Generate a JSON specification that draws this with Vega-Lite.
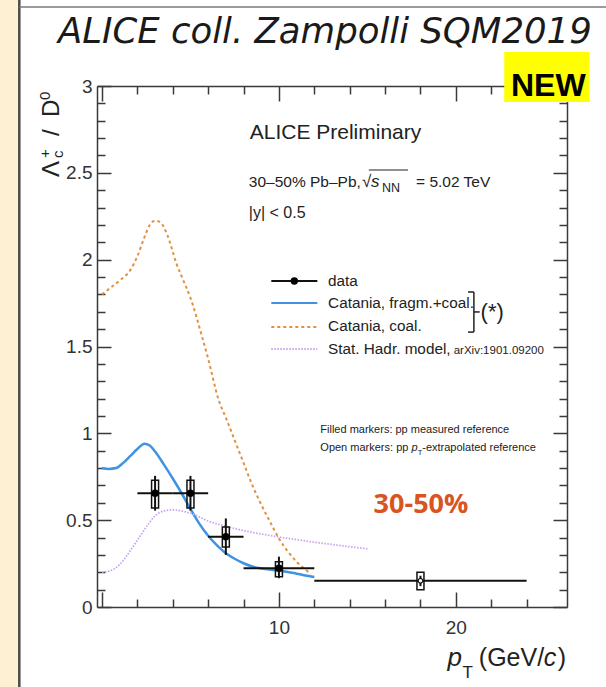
{
  "$schema": "https://vega.github.io/schema/vega-lite/v6.json",
  "width": 470,
  "height": 521,
  "autosize": "none",
  "padding": {"left": 97, "top": 86, "right": 39, "bottom": 80},
  "background": "white",
  "config": {
    "view": {"stroke": null},
    "axis": {"grid": false, "domainColor": "#3a3a3a", "domainWidth": 1.5, "tickColor": "#3a3a3a", "tickWidth": 1.5, "labelFont": "Liberation Sans", "labelFontSize": 19, "labelColor": "#333", "labelFlush": false, "labelOverlap": false}
  },
  "datasets": {
    "curves": [
      {"model": "fragcoal", "pT": 0, "ratio": 0.8}, {"model": "fragcoal", "pT": 0.4, "ratio": 0.795}, {"model": "fragcoal", "pT": 0.8, "ratio": 0.8}, {"model": "fragcoal", "pT": 1.2, "ratio": 0.83}, {"model": "fragcoal", "pT": 1.6, "ratio": 0.87}, {"model": "fragcoal", "pT": 2.0, "ratio": 0.91}, {"model": "fragcoal", "pT": 2.4, "ratio": 0.94}, {"model": "fragcoal", "pT": 2.7, "ratio": 0.93}, {"model": "fragcoal", "pT": 3.0, "ratio": 0.895}, {"model": "fragcoal", "pT": 3.5, "ratio": 0.82}, {"model": "fragcoal", "pT": 4.0, "ratio": 0.74}, {"model": "fragcoal", "pT": 4.5, "ratio": 0.655}, {"model": "fragcoal", "pT": 5.0, "ratio": 0.565}, {"model": "fragcoal", "pT": 5.5, "ratio": 0.48}, {"model": "fragcoal", "pT": 6.0, "ratio": 0.41}, {"model": "fragcoal", "pT": 6.5, "ratio": 0.355}, {"model": "fragcoal", "pT": 7.0, "ratio": 0.31}, {"model": "fragcoal", "pT": 7.5, "ratio": 0.278}, {"model": "fragcoal", "pT": 8.0, "ratio": 0.252}, {"model": "fragcoal", "pT": 8.5, "ratio": 0.233}, {"model": "fragcoal", "pT": 9.0, "ratio": 0.222}, {"model": "fragcoal", "pT": 10.0, "ratio": 0.21}, {"model": "fragcoal", "pT": 11.0, "ratio": 0.192}, {"model": "fragcoal", "pT": 12.0, "ratio": 0.172},
      {"model": "coal", "pT": 0, "ratio": 1.8}, {"model": "coal", "pT": 0.5, "ratio": 1.84}, {"model": "coal", "pT": 1.0, "ratio": 1.88}, {"model": "coal", "pT": 1.6, "ratio": 1.94}, {"model": "coal", "pT": 2.0, "ratio": 2.02}, {"model": "coal", "pT": 2.4, "ratio": 2.13}, {"model": "coal", "pT": 2.7, "ratio": 2.2}, {"model": "coal", "pT": 3.0, "ratio": 2.225}, {"model": "coal", "pT": 3.3, "ratio": 2.215}, {"model": "coal", "pT": 3.7, "ratio": 2.14}, {"model": "coal", "pT": 4.2, "ratio": 1.98}, {"model": "coal", "pT": 4.6, "ratio": 1.88}, {"model": "coal", "pT": 5.0, "ratio": 1.78}, {"model": "coal", "pT": 5.7, "ratio": 1.54}, {"model": "coal", "pT": 6.0, "ratio": 1.43}, {"model": "coal", "pT": 6.6, "ratio": 1.19}, {"model": "coal", "pT": 7.0, "ratio": 1.09}, {"model": "coal", "pT": 7.5, "ratio": 0.96}, {"model": "coal", "pT": 8.0, "ratio": 0.83}, {"model": "coal", "pT": 8.5, "ratio": 0.7}, {"model": "coal", "pT": 9.0, "ratio": 0.59}, {"model": "coal", "pT": 9.5, "ratio": 0.49}, {"model": "coal", "pT": 10.0, "ratio": 0.395}, {"model": "coal", "pT": 10.5, "ratio": 0.32}, {"model": "coal", "pT": 11.0, "ratio": 0.26}, {"model": "coal", "pT": 11.5, "ratio": 0.215}, {"model": "coal", "pT": 11.8, "ratio": 0.19},
      {"model": "shm", "pT": 0, "ratio": 0.2}, {"model": "shm", "pT": 0.5, "ratio": 0.21}, {"model": "shm", "pT": 1.0, "ratio": 0.245}, {"model": "shm", "pT": 1.5, "ratio": 0.31}, {"model": "shm", "pT": 2.0, "ratio": 0.385}, {"model": "shm", "pT": 2.5, "ratio": 0.46}, {"model": "shm", "pT": 3.0, "ratio": 0.525}, {"model": "shm", "pT": 3.5, "ratio": 0.553}, {"model": "shm", "pT": 4.0, "ratio": 0.56}, {"model": "shm", "pT": 4.5, "ratio": 0.553}, {"model": "shm", "pT": 5.0, "ratio": 0.54}, {"model": "shm", "pT": 6.0, "ratio": 0.495}, {"model": "shm", "pT": 7.0, "ratio": 0.465}, {"model": "shm", "pT": 8.0, "ratio": 0.44}, {"model": "shm", "pT": 9.0, "ratio": 0.42}, {"model": "shm", "pT": 10.0, "ratio": 0.403}, {"model": "shm", "pT": 11.0, "ratio": 0.388}, {"model": "shm", "pT": 12.0, "ratio": 0.373}, {"model": "shm", "pT": 13.0, "ratio": 0.36}, {"model": "shm", "pT": 14.0, "ratio": 0.347}, {"model": "shm", "pT": 15.0, "ratio": 0.335}
    ],
    "points": [
      {"pT": 3, "ratio": 0.655, "pTlo": 2, "pThi": 4, "statLo": 0.555, "statHi": 0.755, "systLo": 0.57, "systHi": 0.73, "ref": "measured"},
      {"pT": 5, "ratio": 0.655, "pTlo": 4, "pThi": 6, "statLo": 0.555, "statHi": 0.755, "systLo": 0.57, "systHi": 0.73, "ref": "measured"},
      {"pT": 7, "ratio": 0.405, "pTlo": 6, "pThi": 8, "statLo": 0.3, "statHi": 0.51, "systLo": 0.345, "systHi": 0.46, "ref": "measured"},
      {"pT": 10, "ratio": 0.223, "pTlo": 8, "pThi": 12, "statLo": 0.166, "statHi": 0.29, "systLo": 0.174, "systHi": 0.261, "ref": "measured"},
      {"pT": 18, "ratio": 0.151, "pTlo": 12, "pThi": 24, "statLo": 0.12, "statHi": 0.18, "systLo": 0.1, "systHi": 0.2, "ref": "extrapolated"}
    ]
  },
  "resolve": {"axis": {"x": "independent", "y": "independent"}},
  "layer": [
    {"data": {"values": [{}]}, "mark": {"type": "rect", "color": "#fdf0d3"},
     "encoding": {"x": {"datum": -6, "type": "quantitative", "axis": null, "scale": {"domain": [0, 26]}}, "x2": {"datum": -4.757}, "y": {"datum": -1, "type": "quantitative", "axis": null, "scale": {"domain": [0, 3]}}, "y2": {"datum": 4}}},
    {"data": {"values": [{}]}, "mark": {"type": "rule", "color": "#4a4a4a", "strokeWidth": 2.5},
     "encoding": {"x": {"datum": -4.674, "type": "quantitative", "axis": null, "scale": {"domain": [0, 26]}}, "y": {"datum": -1, "type": "quantitative", "axis": null, "scale": {"domain": [0, 3]}}, "y2": {"datum": 4}}},
    {"data": {"values": [{}]}, "mark": {"type": "rule", "color": "#7a7a7a", "strokeWidth": 1.5},
     "encoding": {"x": {"datum": -4.674, "type": "quantitative", "axis": null, "scale": {"domain": [0, 26]}}, "x2": {"datum": 30}, "y": {"datum": 3.455, "type": "quantitative", "axis": null, "scale": {"domain": [0, 3]}}}},
    {"data": {"name": "curves"}, "transform": [{"filter": "datum.model === 'fragcoal'"}],
     "mark": {"type": "line", "color": "#3f93e2", "strokeWidth": 2.5, "interpolate": "monotone"},
     "encoding": {
       "x": {"field": "pT", "type": "quantitative", "scale": {"domain": [0, 26]},
             "axis": {"orient": "bottom", "title": null, "values": [0, 2, 4, 6, 8, 10, 12, 14, 16, 18, 20, 22, 24],
                      "tickSize": {"condition": {"test": "datum.value % 10 === 0", "value": -15}, "value": -8},
                      "labelPadding": 26, "labelExpr": "datum.value === 10 || datum.value === 20 ? datum.label : ''"}},
       "y": {"field": "ratio", "type": "quantitative", "scale": {"domain": [0, 3]},
             "axis": {"orient": "left", "title": null, "values": [0, 0.1, 0.2, 0.3, 0.4, 0.5, 0.6, 0.7, 0.8, 0.9, 1, 1.1, 1.2, 1.3, 1.4, 1.5, 1.6, 1.7, 1.8, 1.9, 2, 2.1, 2.2, 2.3, 2.4, 2.5, 2.6, 2.7, 2.8, 2.9, 3],
                      "tickSize": {"condition": {"test": "abs(datum.value*2 - round(datum.value*2)) < 0.001", "value": -14}, "value": -8},
                      "labelPadding": 19, "labelExpr": "abs(datum.value*2 - round(datum.value*2)) < 0.001 ? format(datum.value, '~g') : ''"}}
     }},
    {"data": {"name": "curves"}, "transform": [{"filter": "datum.model === 'coal'"}],
     "mark": {"type": "line", "color": "#e0903f", "strokeWidth": 2, "strokeDash": [3, 3], "interpolate": "monotone"},
     "encoding": {
       "x": {"field": "pT", "type": "quantitative", "scale": {"domain": [0, 26]},
             "axis": {"orient": "top", "title": null, "labels": false, "values": [0, 2, 4, 6, 8, 10, 12, 14, 16, 18, 20, 22, 24],
                      "tickSize": {"condition": {"test": "datum.value % 10 === 0", "value": -15}, "value": -8}}},
       "y": {"field": "ratio", "type": "quantitative", "scale": {"domain": [0, 3]},
             "axis": {"orient": "right", "title": null, "labels": false, "values": [0, 0.1, 0.2, 0.3, 0.4, 0.5, 0.6, 0.7, 0.8, 0.9, 1, 1.1, 1.2, 1.3, 1.4, 1.5, 1.6, 1.7, 1.8, 1.9, 2, 2.1, 2.2, 2.3, 2.4, 2.5, 2.6, 2.7, 2.8, 2.9, 3],
                      "tickSize": {"condition": {"test": "abs(datum.value*2 - round(datum.value*2)) < 0.001", "value": -14}, "value": -8}}}
     }},
    {"data": {"name": "curves"}, "transform": [{"filter": "datum.model === 'shm'"}],
     "mark": {"type": "line", "color": "#c6a3ef", "strokeWidth": 1.8, "strokeDash": [1.5, 1.5], "interpolate": "monotone"},
     "encoding": {"x": {"field": "pT", "type": "quantitative", "axis": null, "scale": {"domain": [0, 26]}}, "y": {"field": "ratio", "type": "quantitative", "axis": null, "scale": {"domain": [0, 3]}}}},
    {"data": {"name": "points"}, "mark": {"type": "rule", "color": "#111", "strokeWidth": 2},
     "encoding": {"x": {"field": "pTlo", "type": "quantitative", "axis": null, "scale": {"domain": [0, 26]}}, "x2": {"field": "pThi"}, "y": {"field": "ratio", "type": "quantitative", "axis": null, "scale": {"domain": [0, 3]}}}},
    {"data": {"name": "points"}, "mark": {"type": "rule", "color": "#111", "strokeWidth": 2},
     "encoding": {"x": {"field": "pT", "type": "quantitative", "axis": null, "scale": {"domain": [0, 26]}}, "y": {"field": "statLo", "type": "quantitative", "axis": null, "scale": {"domain": [0, 3]}}, "y2": {"field": "statHi"}}},
    {"data": {"name": "points"}, "mark": {"type": "bar", "size": 7, "fill": "white", "fillOpacity": 0, "stroke": "#111", "strokeWidth": 1.5},
     "encoding": {"x": {"field": "pT", "type": "quantitative", "axis": null, "scale": {"domain": [0, 26]}}, "y": {"field": "systLo", "type": "quantitative", "axis": null, "scale": {"domain": [0, 3]}}, "y2": {"field": "systHi"}}},
    {"data": {"name": "points"}, "transform": [{"filter": "datum.ref === 'measured'"}],
     "mark": {"type": "point", "shape": "circle", "filled": true, "size": 55, "color": "#000", "opacity": 1},
     "encoding": {"x": {"field": "pT", "type": "quantitative", "axis": null, "scale": {"domain": [0, 26]}}, "y": {"field": "ratio", "type": "quantitative", "axis": null, "scale": {"domain": [0, 3]}}}},
    {"data": {"name": "points"}, "transform": [{"filter": "datum.ref === 'extrapolated'"}],
     "mark": {"type": "point", "shape": "circle", "filled": false, "size": 22, "stroke": "#111", "strokeWidth": 1.2, "fill": "white", "opacity": 1},
     "encoding": {"x": {"field": "pT", "type": "quantitative", "axis": null, "scale": {"domain": [0, 26]}}, "y": {"field": "ratio", "type": "quantitative", "axis": null, "scale": {"domain": [0, 3]}}}},

    {"data": {"values": [{}]}, "mark": {"type": "rule", "color": "#111", "strokeWidth": 2},
     "encoding": {"x": {"datum": 9.57, "type": "quantitative", "axis": null, "scale": {"domain": [0, 26]}}, "x2": {"datum": 12.17}, "y": {"datum": 1.8772, "type": "quantitative", "axis": null, "scale": {"domain": [0, 3]}}}},
    {"data": {"values": [{}]}, "mark": {"type": "point", "shape": "circle", "filled": true, "size": 55, "color": "#000", "opacity": 1},
     "encoding": {"x": {"datum": 10.87, "type": "quantitative", "axis": null, "scale": {"domain": [0, 26]}}, "y": {"datum": 1.8772, "type": "quantitative", "axis": null, "scale": {"domain": [0, 3]}}}},
    {"data": {"values": [{}]}, "mark": {"type": "rule", "color": "#3f93e2", "strokeWidth": 2},
     "encoding": {"x": {"datum": 9.57, "type": "quantitative", "axis": null, "scale": {"domain": [0, 26]}}, "x2": {"datum": 12.17}, "y": {"datum": 1.7505, "type": "quantitative", "axis": null, "scale": {"domain": [0, 3]}}}},
    {"data": {"values": [{}]}, "mark": {"type": "rule", "color": "#e0903f", "strokeWidth": 2, "strokeDash": [3, 3]},
     "encoding": {"x": {"datum": 9.57, "type": "quantitative", "axis": null, "scale": {"domain": [0, 26]}}, "x2": {"datum": 12.17}, "y": {"datum": 1.6123, "type": "quantitative", "axis": null, "scale": {"domain": [0, 3]}}}},
    {"data": {"values": [{}]}, "mark": {"type": "rule", "color": "#c6a3ef", "strokeWidth": 1.8, "strokeDash": [1.5, 1.5]},
     "encoding": {"x": {"datum": 9.57, "type": "quantitative", "axis": null, "scale": {"domain": [0, 26]}}, "x2": {"datum": 12.17}, "y": {"datum": 1.4856, "type": "quantitative", "axis": null, "scale": {"domain": [0, 3]}}}},
    {"data": {"values": [{}]}, "mark": {"type": "text", "text": "data", "font": "Liberation Sans", "fontSize": 15.3, "align": "left", "baseline": "alphabetic", "color": "#222"},
     "encoding": {"x": {"datum": 12.78, "type": "quantitative", "axis": null, "scale": {"domain": [0, 26]}}, "y": {"datum": 1.8484, "type": "quantitative", "axis": null, "scale": {"domain": [0, 3]}}}},
    {"data": {"values": [{}]}, "mark": {"type": "text", "text": "Catania, fragm.+coal.", "font": "Liberation Sans", "fontSize": 15.3, "align": "left", "baseline": "alphabetic", "color": "#222"},
     "encoding": {"x": {"datum": 12.78, "type": "quantitative", "axis": null, "scale": {"domain": [0, 26]}}, "y": {"datum": 1.7235, "type": "quantitative", "axis": null, "scale": {"domain": [0, 3]}}}},
    {"data": {"values": [{}]}, "mark": {"type": "text", "text": "Catania, coal.", "font": "Liberation Sans", "fontSize": 15.3, "align": "left", "baseline": "alphabetic", "color": "#222"},
     "encoding": {"x": {"datum": 12.78, "type": "quantitative", "axis": null, "scale": {"domain": [0, 26]}}, "y": {"datum": 1.591, "type": "quantitative", "axis": null, "scale": {"domain": [0, 3]}}}},
    {"data": {"values": [{}]}, "mark": {"type": "text", "text": "Stat. Hadr. model,", "font": "Liberation Sans", "fontSize": 15.3, "align": "left", "baseline": "alphabetic", "color": "#222"},
     "encoding": {"x": {"datum": 12.78, "type": "quantitative", "axis": null, "scale": {"domain": [0, 26]}}, "y": {"datum": 1.4568, "type": "quantitative", "axis": null, "scale": {"domain": [0, 3]}}}},
    {"data": {"values": [{}]}, "mark": {"type": "text", "text": "arXiv:1901.09200", "font": "Liberation Sans", "fontSize": 11.5, "align": "left", "baseline": "alphabetic", "color": "#222"},
     "encoding": {"x": {"datum": 19.88, "type": "quantitative", "axis": null, "scale": {"domain": [0, 26]}}, "y": {"datum": 1.4568, "type": "quantitative", "axis": null, "scale": {"domain": [0, 3]}}}},
    {"data": {"values": [{}]}, "mark": {"type": "rule", "color": "#222", "strokeWidth": 1.5},
     "encoding": {"x": {"datum": 21.02, "type": "quantitative", "axis": null, "scale": {"domain": [0, 26]}}, "y": {"datum": 1.583, "type": "quantitative", "axis": null, "scale": {"domain": [0, 3]}}, "y2": {"datum": 1.814}}},
    {"data": {"values": [{}]}, "mark": {"type": "rule", "color": "#222", "strokeWidth": 1.5},
     "encoding": {"x": {"datum": 20.69, "type": "quantitative", "axis": null, "scale": {"domain": [0, 26]}}, "x2": {"datum": 21.02}, "y": {"datum": 1.814, "type": "quantitative", "axis": null, "scale": {"domain": [0, 3]}}}},
    {"data": {"values": [{}]}, "mark": {"type": "rule", "color": "#222", "strokeWidth": 1.5},
     "encoding": {"x": {"datum": 20.69, "type": "quantitative", "axis": null, "scale": {"domain": [0, 26]}}, "x2": {"datum": 21.02}, "y": {"datum": 1.583, "type": "quantitative", "axis": null, "scale": {"domain": [0, 3]}}}},
    {"data": {"values": [{}]}, "mark": {"type": "rule", "color": "#222", "strokeWidth": 1.5},
     "encoding": {"x": {"datum": 21.02, "type": "quantitative", "axis": null, "scale": {"domain": [0, 26]}}, "x2": {"datum": 21.35}, "y": {"datum": 1.699, "type": "quantitative", "axis": null, "scale": {"domain": [0, 3]}}}},
    {"data": {"values": [{}]}, "mark": {"type": "text", "text": "(*)", "font": "Liberation Sans", "fontSize": 22, "align": "left", "baseline": "middle", "color": "#222"},
     "encoding": {"x": {"datum": 21.4, "type": "quantitative", "axis": null, "scale": {"domain": [0, 26]}}, "y": {"datum": 1.699, "type": "quantitative", "axis": null, "scale": {"domain": [0, 3]}}}},

    {"data": {"values": [{}]}, "mark": {"type": "text", "text": "ALICE Preliminary", "font": "Liberation Sans", "fontSize": 21, "align": "left", "baseline": "alphabetic", "color": "#222"},
     "encoding": {"x": {"datum": 8.35, "type": "quantitative", "axis": null, "scale": {"domain": [0, 26]}}, "y": {"datum": 2.693, "type": "quantitative", "axis": null, "scale": {"domain": [0, 3]}}}},
    {"data": {"values": [{}]}, "mark": {"type": "text", "text": "30–50% Pb–Pb,", "font": "Liberation Sans", "fontSize": 15.5, "align": "left", "baseline": "alphabetic", "color": "#222"},
     "encoding": {"x": {"datum": 8.298, "type": "quantitative", "axis": null, "scale": {"domain": [0, 26]}}, "y": {"datum": 2.4184, "type": "quantitative", "axis": null, "scale": {"domain": [0, 3]}}}},
    {"data": {"values": [{}]}, "mark": {"type": "text", "text": "√", "font": "Liberation Sans", "fontSize": 17, "align": "left", "baseline": "alphabetic", "color": "#222"},
     "encoding": {"x": {"datum": 14.7, "type": "quantitative", "axis": null, "scale": {"domain": [0, 26]}}, "y": {"datum": 2.4184, "type": "quantitative", "axis": null, "scale": {"domain": [0, 3]}}}},
    {"data": {"values": [{}]}, "mark": {"type": "text", "text": "s", "font": "Liberation Sans", "fontStyle": "italic", "fontSize": 17, "align": "left", "baseline": "alphabetic", "color": "#222"},
     "encoding": {"x": {"datum": 15.2, "type": "quantitative", "axis": null, "scale": {"domain": [0, 26]}}, "y": {"datum": 2.4184, "type": "quantitative", "axis": null, "scale": {"domain": [0, 3]}}}},
    {"data": {"values": [{}]}, "mark": {"type": "text", "text": "NN", "font": "Liberation Sans", "fontSize": 12.5, "align": "left", "baseline": "alphabetic", "color": "#222"},
     "encoding": {"x": {"datum": 15.82, "type": "quantitative", "axis": null, "scale": {"domain": [0, 26]}}, "y": {"datum": 2.392, "type": "quantitative", "axis": null, "scale": {"domain": [0, 3]}}}},
    {"data": {"values": [{}]}, "mark": {"type": "rule", "color": "#222", "strokeWidth": 1},
     "encoding": {"x": {"datum": 15.08, "type": "quantitative", "axis": null, "scale": {"domain": [0, 26]}}, "x2": {"datum": 17.3}, "y": {"datum": 2.5163, "type": "quantitative", "axis": null, "scale": {"domain": [0, 3]}}}},
    {"data": {"values": [{}]}, "mark": {"type": "text", "text": "= 5.02 TeV", "font": "Liberation Sans", "fontSize": 15.5, "align": "left", "baseline": "alphabetic", "color": "#222"},
     "encoding": {"x": {"datum": 17.75, "type": "quantitative", "axis": null, "scale": {"domain": [0, 26]}}, "y": {"datum": 2.4184, "type": "quantitative", "axis": null, "scale": {"domain": [0, 3]}}}},
    {"data": {"values": [{}]}, "mark": {"type": "text", "text": "|y| < 0.5", "font": "Liberation Sans", "fontSize": 16, "align": "left", "baseline": "alphabetic", "color": "#222"},
     "encoding": {"x": {"datum": 8.298, "type": "quantitative", "axis": null, "scale": {"domain": [0, 26]}}, "y": {"datum": 2.24, "type": "quantitative", "axis": null, "scale": {"domain": [0, 3]}}}},

    {"data": {"values": [{}]}, "mark": {"type": "text", "text": "Filled markers: pp measured reference", "font": "Liberation Sans", "fontSize": 11, "align": "left", "baseline": "alphabetic", "color": "#222"},
     "encoding": {"x": {"datum": 12.34, "type": "quantitative", "axis": null, "scale": {"domain": [0, 26]}}, "y": {"datum": 1.0, "type": "quantitative", "axis": null, "scale": {"domain": [0, 3]}}}},
    {"data": {"values": [{}]}, "mark": {"type": "text", "text": "Open markers: pp", "font": "Liberation Sans", "fontSize": 11, "align": "left", "baseline": "alphabetic", "color": "#222"},
     "encoding": {"x": {"datum": 12.34, "type": "quantitative", "axis": null, "scale": {"domain": [0, 26]}}, "y": {"datum": 0.9, "type": "quantitative", "axis": null, "scale": {"domain": [0, 3]}}}},
    {"data": {"values": [{}]}, "mark": {"type": "text", "text": "p", "font": "Liberation Sans", "fontStyle": "italic", "fontSize": 11, "align": "left", "baseline": "alphabetic", "color": "#222"},
     "encoding": {"x": {"datum": 17.5, "type": "quantitative", "axis": null, "scale": {"domain": [0, 26]}}, "y": {"datum": 0.9, "type": "quantitative", "axis": null, "scale": {"domain": [0, 3]}}}},
    {"data": {"values": [{}]}, "mark": {"type": "text", "text": "T", "font": "Liberation Sans", "fontSize": 7.5, "align": "left", "baseline": "alphabetic", "color": "#222"},
     "encoding": {"x": {"datum": 17.84, "type": "quantitative", "axis": null, "scale": {"domain": [0, 26]}}, "y": {"datum": 0.878, "type": "quantitative", "axis": null, "scale": {"domain": [0, 3]}}}},
    {"data": {"values": [{}]}, "mark": {"type": "text", "text": "-extrapolated reference", "font": "Liberation Sans", "fontSize": 11, "align": "left", "baseline": "alphabetic", "color": "#222"},
     "encoding": {"x": {"datum": 18.1, "type": "quantitative", "axis": null, "scale": {"domain": [0, 26]}}, "y": {"datum": 0.9, "type": "quantitative", "axis": null, "scale": {"domain": [0, 3]}}}},
    {"data": {"values": [{}]}, "mark": {"type": "text", "text": "30-50%", "font": "Open Sans", "fontWeight": "bold", "fontSize": 27, "align": "center", "baseline": "middle", "color": "#d9541e"},
     "encoding": {"x": {"datum": 18.03, "type": "quantitative", "axis": null, "scale": {"domain": [0, 26]}}, "y": {"datum": 0.5874, "type": "quantitative", "axis": null, "scale": {"domain": [0, 3]}}}},

    {"data": {"values": [{}]}, "mark": {"type": "text", "text": "p", "font": "Liberation Sans", "fontStyle": "italic", "fontSize": 26, "align": "left", "baseline": "alphabetic", "color": "#222"},
     "encoding": {"x": {"datum": 19.53, "type": "quantitative", "axis": null, "scale": {"domain": [0, 26]}}, "y": {"datum": -0.3397, "type": "quantitative", "axis": null, "scale": {"domain": [0, 3]}}}},
    {"data": {"values": [{}]}, "mark": {"type": "text", "text": "T", "font": "Liberation Sans", "fontSize": 17, "align": "left", "baseline": "alphabetic", "color": "#222"},
     "encoding": {"x": {"datum": 20.38, "type": "quantitative", "axis": null, "scale": {"domain": [0, 26]}}, "y": {"datum": -0.4088, "type": "quantitative", "axis": null, "scale": {"domain": [0, 3]}}}},
    {"data": {"values": [{}]}, "mark": {"type": "text", "text": "(GeV/", "font": "Liberation Sans", "fontSize": 25, "align": "left", "baseline": "alphabetic", "color": "#222"},
     "encoding": {"x": {"datum": 21.3, "type": "quantitative", "axis": null, "scale": {"domain": [0, 26]}}, "y": {"datum": -0.3397, "type": "quantitative", "axis": null, "scale": {"domain": [0, 3]}}}},
    {"data": {"values": [{}]}, "mark": {"type": "text", "text": "c", "font": "Liberation Sans", "fontStyle": "italic", "fontSize": 25, "align": "left", "baseline": "alphabetic", "color": "#222"},
     "encoding": {"x": {"datum": 24.97, "type": "quantitative", "axis": null, "scale": {"domain": [0, 26]}}, "y": {"datum": -0.3397, "type": "quantitative", "axis": null, "scale": {"domain": [0, 3]}}}},
    {"data": {"values": [{}]}, "mark": {"type": "text", "text": ")", "font": "Liberation Sans", "fontSize": 25, "align": "left", "baseline": "alphabetic", "color": "#222"},
     "encoding": {"x": {"datum": 25.76, "type": "quantitative", "axis": null, "scale": {"domain": [0, 26]}}, "y": {"datum": -0.3397, "type": "quantitative", "axis": null, "scale": {"domain": [0, 3]}}}},

    {"data": {"values": [{}]}, "mark": {"type": "text", "text": "Λ", "font": "Liberation Sans", "fontSize": 24, "angle": 270, "align": "left", "baseline": "alphabetic", "color": "#222"},
     "encoding": {"x": {"datum": -2.434, "type": "quantitative", "axis": null, "scale": {"domain": [0, 26]}}, "y": {"datum": 2.476, "type": "quantitative", "axis": null, "scale": {"domain": [0, 3]}}}},
    {"data": {"values": [{}]}, "mark": {"type": "text", "text": "+", "font": "Liberation Sans", "fontSize": 15, "angle": 270, "align": "left", "baseline": "alphabetic", "color": "#222"},
     "encoding": {"x": {"datum": -2.932, "type": "quantitative", "axis": null, "scale": {"domain": [0, 26]}}, "y": {"datum": 2.5854, "type": "quantitative", "axis": null, "scale": {"domain": [0, 3]}}}},
    {"data": {"values": [{}]}, "mark": {"type": "text", "text": "c", "font": "Liberation Sans", "fontSize": 15, "angle": 270, "align": "left", "baseline": "alphabetic", "color": "#222"},
     "encoding": {"x": {"datum": -2.213, "type": "quantitative", "axis": null, "scale": {"domain": [0, 26]}}, "y": {"datum": 2.5854, "type": "quantitative", "axis": null, "scale": {"domain": [0, 3]}}}},
    {"data": {"values": [{}]}, "mark": {"type": "text", "text": "/", "font": "Liberation Sans", "fontSize": 24, "angle": 270, "align": "left", "baseline": "alphabetic", "color": "#222"},
     "encoding": {"x": {"datum": -2.434, "type": "quantitative", "axis": null, "scale": {"domain": [0, 26]}}, "y": {"datum": 2.712, "type": "quantitative", "axis": null, "scale": {"domain": [0, 3]}}}},
    {"data": {"values": [{}]}, "mark": {"type": "text", "text": "D", "font": "Liberation Sans", "fontSize": 24, "angle": 270, "align": "left", "baseline": "alphabetic", "color": "#222"},
     "encoding": {"x": {"datum": -2.434, "type": "quantitative", "axis": null, "scale": {"domain": [0, 26]}}, "y": {"datum": 2.8215, "type": "quantitative", "axis": null, "scale": {"domain": [0, 3]}}}},
    {"data": {"values": [{}]}, "mark": {"type": "text", "text": "0", "font": "Liberation Sans", "fontSize": 15, "angle": 270, "align": "left", "baseline": "alphabetic", "color": "#222"},
     "encoding": {"x": {"datum": -2.932, "type": "quantitative", "axis": null, "scale": {"domain": [0, 26]}}, "y": {"datum": 2.9194, "type": "quantitative", "axis": null, "scale": {"domain": [0, 3]}}}},

    {"data": {"values": [{}]}, "mark": {"type": "rect", "color": "#ffff00"},
     "encoding": {"x": {"datum": 22.736, "type": "quantitative", "axis": null, "scale": {"domain": [0, 26]}}, "x2": {"datum": 27.549}, "y": {"datum": 2.9079, "type": "quantitative", "axis": null, "scale": {"domain": [0, 3]}}, "y2": {"datum": 3.1958}}},
    {"data": {"values": [{}]}, "mark": {"type": "text", "text": "NEW", "font": "Liberation Sans", "fontWeight": "bold", "fontSize": 32, "align": "center", "baseline": "alphabetic", "color": "#000"},
     "encoding": {"x": {"datum": 25.225, "type": "quantitative", "axis": null, "scale": {"domain": [0, 26]}}, "y": {"datum": 2.94, "type": "quantitative", "axis": null, "scale": {"domain": [0, 3]}}}},
    {"data": {"values": [{}]}, "mark": {"type": "text", "text": "ALICE coll. Zampolli SQM2019", "font": "DejaVu Sans", "fontStyle": "italic", "fontSize": 35.5, "align": "left", "baseline": "alphabetic", "color": "#1a1a1a"},
     "encoding": {"x": {"datum": -2.489, "type": "quantitative", "axis": null, "scale": {"domain": [0, 26]}}, "y": {"datum": 3.2476, "type": "quantitative", "axis": null, "scale": {"domain": [0, 3]}}}}
  ]
}
